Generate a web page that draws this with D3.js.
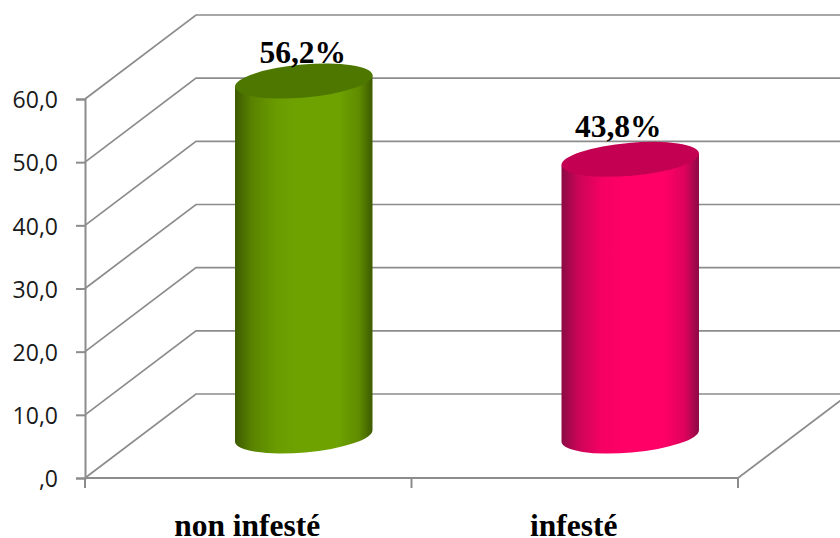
<!DOCTYPE html>
<html><head><meta charset="utf-8">
<script src="https://cdn.jsdelivr.net/npm/d3@7"></script>
<style>html,body{margin:0;padding:0;background:#fff}svg{display:block}</style>
</head><body><svg id="c" width="840" height="538"></svg>
<script>
const categories = ["non infesté", "infesté"];
const values = [56.2, 43.8];
const valueLabels = ["56,2%", "43,8%"];
const yTicks = [0, 10, 20, 30, 40, 50, 60];
const yTickLabels = [",0", "10,0", "20,0", "30,0", "40,0", "50,0", "60,0"];
const palettes = [
  {edge:"#3d5a00", mid:"#6ea200", top:"#4e7700"},
  {edge:"#8a0a44", mid:"#ff0066", top:"#c40052"}
];

const svg = d3.select("#c");
const x = d3.scaleBand().domain(categories).range([85, 738]).paddingInner(0).paddingOuter(0);
const y = d3.scaleLinear().domain([0, 60]).range([478, 99]);
const depthX = 111, depthY = 84, grid = "#8c8c8c";

// gradients
const defs = svg.append("defs");
palettes.forEach((p, i) => {
  const mix = d3.interpolateRgb(p.edge, p.mid);
  const g = defs.append("linearGradient").attr("id", "cyl" + i)
    .attr("x1", "0").attr("x2", "1").attr("y1", "0").attr("y2", "0");
  [[0, p.edge], [0.12, mix(0.55)], [0.3, mix(0.92)], [0.45, p.mid], [0.75, p.mid], [0.9, mix(0.7)], [1, p.edge]]
    .forEach(s => g.append("stop").attr("offset", s[0]).attr("stop-color", s[1]));
});

// walls
const gridG = svg.append("g").attr("fill", "none").attr("stroke", grid);
yTicks.forEach(t => {
  gridG.append("path").attr("stroke-width", 1.7)
    .attr("d", d3.line()([[85, y(t)], [85 + depthX, y(t) - depthY], [738 + depthX, y(t) - depthY]]));
});
gridG.append("path").attr("stroke-width", 1.7)
  .attr("d", d3.line()([[738, y(0)], [738 + depthX, y(0) - depthY]]));

// axes
const axisY = d3.axisLeft(y).tickValues(yTicks).tickFormat((d, i) => yTickLabels[i]).tickSize(9).tickPadding(18);
const gy = svg.append("g").attr("transform", "translate(85,0)").call(axisY);
gy.selectAll("path,line").attr("stroke", grid).attr("stroke-width", 2);
gy.selectAll("text").attr("font-family", "'Open Sans'").attr("font-size", 23).attr("fill", "#1a1a1a").attr("dy", "0.38em");

const xEdges = [85, 411.5, 738];
const gx = svg.append("g").attr("stroke", grid).attr("stroke-width", 2);
gx.append("path").attr("fill", "none").attr("d", d3.line()([[85, y(0)], [738, y(0)]]));
gx.selectAll("line").data(xEdges).join("line")
  .attr("x1", d => d).attr("x2", d => d).attr("y1", y(0)).attr("y2", y(0) + 10);

svg.selectAll("text.cat").data(categories).join("text").attr("class", "cat")
  .attr("x", d => x(d) + x.bandwidth() / 2 - 1).attr("y", 536)
  .attr("text-anchor", "middle").attr("font-family", "'Liberation Serif'")
  .attr("font-weight", "bold").attr("font-size", 31.5).attr("fill", "#000").text(d => d);

// cylinders
const rx = 69, ry = 16.5, tilt = -5;
const rad = tilt * Math.PI / 180;
const ex = rx * Math.cos(rad), ey = rx * Math.sin(rad);
values.forEach((v, i) => {
  const cx = x(categories[i]) + x.bandwidth() / 2 + depthX / 2;
  const yb = y(0) - depthY / 2, yt = y(v) - depthY / 2;
  const g = svg.append("g");
  g.append("path").attr("fill", `url(#cyl${i})`)
    .attr("d", `M${cx - ex},${yt - ey}L${cx + ex},${yt + ey}L${cx + ex},${yb + ey}` +
      `A${rx},${ry} ${tilt} 0 1 ${cx - ex},${yb - ey}Z`);
  g.append("ellipse").attr("cx", cx).attr("cy", yt).attr("rx", rx).attr("ry", ry)
    .attr("transform", `rotate(${tilt} ${cx} ${yt})`).attr("fill", palettes[i].top);
});

// value labels
const labelNudge = [[-1, -18], [-12, -22]];
values.forEach((v, i) => {
  const cx = x(categories[i]) + x.bandwidth() / 2 + depthX / 2;
  svg.append("text").attr("x", cx + labelNudge[i][0]).attr("y", y(v) - depthY / 2 + labelNudge[i][1])
    .attr("text-anchor", "middle").attr("font-family", "'Liberation Serif'")
    .attr("font-weight", "bold").attr("font-size", 31.5).attr("fill", "#000").text(valueLabels[i]);
});
</script></body></html>
